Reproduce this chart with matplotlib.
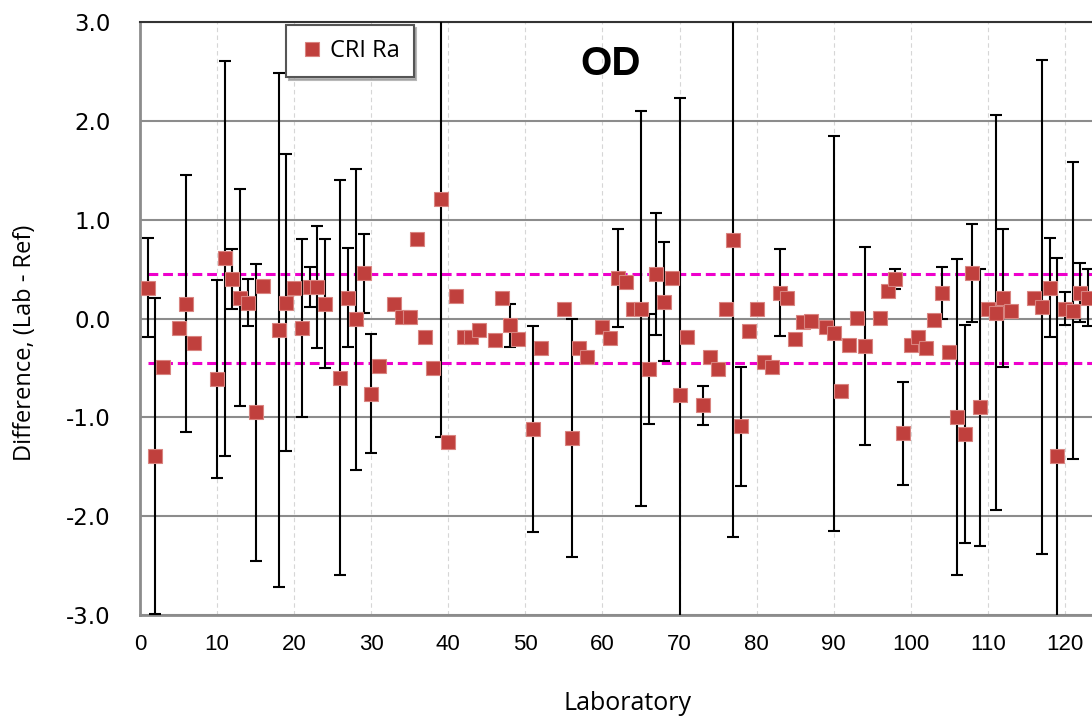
import matplotlib
matplotlib.use("Agg")
import matplotlib.pyplot as plt
import numpy as np

# Interlaboratory comparison: CRI Ra difference (Lab - Ref) with expanded uncertainties
labs = [1, 2, 3, 5, 6, 7, 10, 11, 12, 13, 14, 15, 16, 18, 19, 20, 21, 22, 23, 24,
        26, 27, 28, 29, 30, 31, 33, 34, 35, 36, 37, 38, 39, 40, 41, 42, 43, 44, 46, 47,
        48, 49, 51, 52, 55, 56, 57, 58, 60, 61, 62, 63, 64, 65, 66, 67, 68, 69, 70, 71,
        73, 74, 75, 76, 77, 78, 79, 80, 81, 82, 83, 84, 85, 86, 87, 89, 90, 91, 92, 93,
        94, 96, 97, 98, 99, 100, 101, 102, 103, 104, 105, 106, 107, 108, 109, 110, 111, 112, 113, 116,
        117, 118, 119, 120, 121, 122, 123]

diffs = [0.31, -1.39, -0.49, -0.10, 0.15, -0.25, -0.61, 0.61, 0.40, 0.21, 0.16, -0.95, 0.33, -0.12, 0.16, 0.31, -0.10, 0.32, 0.32, 0.15,
         -0.60, 0.21, -0.01, 0.46, -0.76, -0.48, 0.15, 0.02, 0.02, 0.80, -0.19, -0.50, 1.21, -1.25, 0.23, -0.19, -0.19, -0.12, -0.22, 0.21,
         -0.07, -0.21, -1.12, -0.30, 0.10, -1.21, -0.30, -0.39, -0.09, -0.20, 0.41, 0.37, 0.10, 0.10, -0.51, 0.45, 0.17, 0.41, -0.77, -0.19,
         -0.88, -0.39, -0.51, 0.10, 0.79, -1.09, -0.13, 0.10, -0.44, -0.49, 0.26, 0.21, -0.21, -0.04, -0.03, -0.09, -0.15, -0.73, -0.27, 0.01,
         -0.28, 0.01, 0.28, 0.40, -1.16, -0.27, -0.19, -0.30, -0.02, 0.26, -0.34, -1.00, -1.17, 0.46, -0.90, 0.10, 0.06, 0.21, 0.08, 0.21,
         0.12, 0.31, -1.39, 0.10, 0.08, 0.26, 0.21]

uncert = [0.50, 1.60, 0, 0, 1.30, 0, 1.00, 2.00, 0.30, 1.10, 0.24, 1.50, 0, 2.60, 1.50, 0, 0.90, 0.20, 0.62, 0.65,
          2.00, 0.50, 1.52, 0.40, 0.60, 0, 0, 0, 0, 0, 0, 0, 2.41, 0, 0, 0, 0, 0, 0, 0,
          0.22, 0, 1.04, 0, 0, 1.20, 0, 0, 0, 0, 0.50, 0, 0, 2.00, 0.56, 0.62, 0.60, 0, 3.00, 0,
          0.20, 0, 0, 0, 3.00, 0.60, 0, 0, 0, 0, 0.44, 0, 0, 0, 0, 0, 2.00, 0, 0, 0,
          1.00, 0, 0, 0.10, 0.52, 0, 0, 0, 0, 0.26, 0, 1.60, 1.10, 0.50, 1.40, 0, 2.00, 0.70, 0, 0,
          2.50, 0.50, 2.00, 0.17, 1.50, 0.30, 0.29]

acceptance_limit = 0.45

x_ticks = list(range(0, 121, 10))
y_ticks = [-3.0, -2.0, -1.0, 0.0, 1.0, 2.0, 3.0]
y_tick_labels = ["-3.0", "-2.0", "-1.0", "0.0", "1.0", "2.0", "3.0"]

W, H = 1092, 717
fig = plt.figure(figsize=(W / 100, H / 100), dpi=100)
ax = fig.add_axes([140 / W, 1 - 615 / H, 1002 / W, 593 / H])
ax.set_xlim(0, 130)
ax.set_ylim(-3, 3)

# grid
ax.set_axisbelow(True)
ax.set_xticks(x_ticks)
ax.set_yticks(y_ticks)
ax.set_yticklabels(y_tick_labels)
ax.yaxis.grid(True, color="#8c8c8c", lw=1.5)
ax.xaxis.grid(True, color="#d6d6d6", lw=0.8, ls=(0, (4, 3)))

for side in ("left", "bottom"):
    ax.spines[side].set_color("#8c8c8c")
    ax.spines[side].set_linewidth(2)
ax.spines["top"].set_color("#333333")
ax.spines["top"].set_linewidth(1.5)
ax.spines["right"].set_visible(False)

ax.tick_params(axis="both", length=0)
ax.tick_params(axis="x", pad=14, labelsize=16)
ax.tick_params(axis="y", pad=21, labelsize=16.5)
for lbl in ax.get_xticklabels():
    lbl.set_fontfamily("Liberation Sans")
for lbl in ax.get_yticklabels():
    lbl.set_fontfamily("DejaVu Sans")

# acceptance limits
for lim in (acceptance_limit, -acceptance_limit):
    ax.plot([1, 130], [lim, lim], color="#EE00CC", lw=2.2, ls=(0, (3.2, 1.6)), zorder=2)

lab_arr = np.array(labs)
diff_arr = np.array(diffs)
unc_arr = np.array(uncert)
has_unc = unc_arr > 0

ax.errorbar(lab_arr[has_unc], diff_arr[has_unc], yerr=unc_arr[has_unc], fmt="none",
            ecolor="black", elinewidth=1.5, capsize=4, capthick=1.5, zorder=3)
ax.plot(lab_arr, diff_arr, ls="none", marker="s", ms=9.5, mfc="#C0403D",
        mec="#D98480", mew=0.8, zorder=4, label="CRI Ra")

leg = ax.legend(loc="upper left", bbox_to_anchor=(286 / W, 1 - 25 / H),
                bbox_transform=fig.transFigure, borderaxespad=0,
                prop={"family": "Open Sans", "size": 17}, handlelength=1.0,
                handletextpad=0.25, borderpad=0.6, fancybox=False,
                shadow={"color": "#9a9a9a", "alpha": 0.7}, framealpha=1)
leg.get_frame().set_edgecolor("#555555")
leg.get_frame().set_linewidth(1.5)

fig.text(611 / W, 1 - 75 / H, "OD", fontsize=29, fontweight="bold",
         family="Liberation Sans", ha="center", va="baseline")
fig.text(628 / W, 1 - 710 / H, "Laboratory", fontsize=18, family="Open Sans",
         ha="center", va="baseline")
fig.text(25 / W, 1 - 343 / H, "Difference, (Lab - Ref)", fontsize=17,
         family="Open Sans", rotation=90, ha="center", va="center")

fig.savefig("out.png", dpi=100)
